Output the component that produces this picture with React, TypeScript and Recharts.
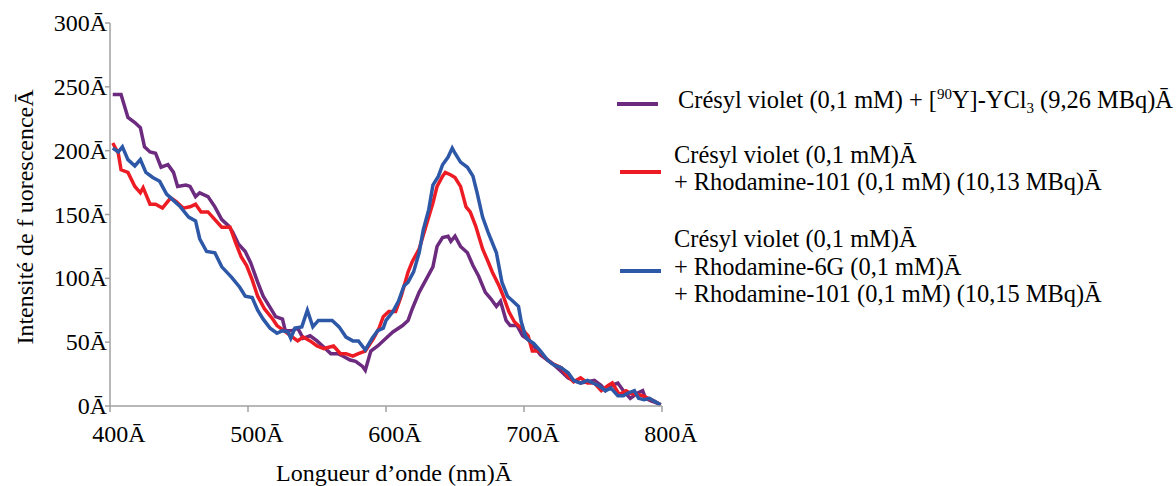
import { LineChart, Line, XAxis, YAxis, Legend } from 'recharts';

// Crésyl violet + [90Y]-YCl3
const cvNm = [402, 408, 413, 418, 422, 425, 429, 433, 437, 442, 446, 449, 455, 458, 462, 465, 471, 476, 481, 486, 489, 493, 498, 502, 507, 511, 515, 520, 525, 527, 532, 536, 540, 545, 550, 556, 560, 565, 569, 574, 578, 583, 585, 589, 594, 600, 605, 612, 616, 619, 624, 629, 634, 637, 641, 645, 647, 650, 654, 659, 663, 667, 672, 676, 680, 683, 687, 690, 695, 699, 703, 707, 712, 717, 722, 727, 732, 736, 741, 746, 751, 756, 759, 763, 768, 772, 777, 782, 786, 788, 792, 797, 799];
const cvVal = [244, 244, 226, 222, 218, 203, 199, 198, 187, 189, 183, 172, 173, 172, 164, 167, 164, 156, 146, 141, 136, 127, 121, 112, 97, 86, 79, 70, 68, 59, 59, 61, 53, 55, 51, 45, 41, 41, 39, 36, 35, 31, 28, 43, 47, 53, 58, 63, 67, 76, 89, 99, 109, 125, 132, 133, 129, 133, 125, 120, 110, 102, 89, 84, 78, 82, 67, 63, 63, 55, 52, 47, 40, 36, 32, 27, 22, 20, 18, 19, 20, 16, 12, 16, 18, 12, 6, 10, 12, 6, 4, 2, 1];

// Crésyl violet + Rhodamine-101
const r101Nm = [402, 406, 408, 413, 418, 422, 424, 429, 433, 438, 444, 448, 453, 458, 462, 466, 471, 476, 481, 487, 491, 495, 499, 503, 507, 512, 518, 521, 526, 531, 536, 540, 545, 550, 555, 562, 567, 571, 576, 580, 585, 591, 595, 598, 602, 607, 611, 616, 619, 624, 629, 634, 637, 641, 643, 647, 650, 654, 658, 661, 665, 670, 674, 677, 682, 685, 689, 693, 698, 703, 706, 711, 716, 721, 727, 732, 736, 741, 746, 751, 756, 761, 764, 769, 774, 777, 782, 786, 790, 794, 799];
const r101Val = [206, 198, 185, 183, 172, 167, 171, 158, 158, 155, 163, 160, 155, 156, 158, 152, 152, 146, 140, 140, 128, 117, 110, 99, 86, 76, 68, 63, 59, 55, 51, 54, 51, 47, 45, 47, 41, 41, 39, 41, 43, 53, 61, 70, 74, 74, 86, 105, 113, 123, 141, 159, 172, 180, 183, 181, 179, 172, 156, 152, 141, 123, 113, 105, 94, 86, 74, 66, 61, 55, 43, 43, 37, 33, 30, 23, 19, 22, 18, 18, 12, 16, 18, 9, 12, 10, 9, 8, 6, 4, 1];

// Crésyl violet + Rhodamine-6G + Rhodamine-101
const r6gNm = [402, 406, 409, 413, 418, 422, 426, 431, 436, 441, 444, 451, 457, 462, 465, 470, 476, 481, 488, 494, 498, 503, 507, 511, 516, 521, 525, 529, 531, 534, 539, 543, 547, 551, 556, 561, 566, 571, 576, 580, 585, 590, 594, 598, 600, 605, 609, 613, 616, 620, 624, 627, 631, 634, 638, 641, 645, 648, 650, 654, 659, 663, 666, 670, 674, 680, 684, 688, 692, 696, 698, 701, 703, 707, 712, 717, 722, 727, 732, 736, 741, 746, 750, 754, 759, 763, 768, 772, 775, 780, 783, 787, 791, 794, 799];
const r6gVal = [202, 199, 203, 193, 188, 193, 183, 179, 176, 166, 163, 156, 148, 145, 131, 121, 120, 109, 101, 93, 86, 85, 75, 68, 61, 57, 59, 58, 53, 61, 62, 75, 62, 67, 67, 67, 62, 54, 51, 51, 44, 53, 59, 61, 67, 74, 82, 94, 97, 105, 120, 138, 154, 173, 180, 189, 195, 202, 198, 191, 187, 180, 167, 148, 136, 120, 97, 86, 82, 78, 66, 55, 52, 49, 43, 36, 32, 30, 26, 20, 18, 20, 18, 16, 12, 14, 8, 8, 10, 12, 6, 5, 6, 4, 1];

const xTicks = [400, 500, 600, 700, 800];
const yTicks = [0, 50, 100, 150, 200, 250, 300];

const PURPLE = '#6d2b7f';
const RED = '#ed1c24';
const BLUE = '#2d58a7';
const AXIS = '#a0a0a0';
const FONT = '"Liberation Serif", "Times New Roman", serif';
const txt = { fontFamily: FONT, fontSize: 24, fill: '#000' };
const legTxt = { ...txt, fontSize: 24.4 };

const toRows = (nm: number[], val: number[]) => nm.map((x, i) => ({ nm: x, v: val[i] }));

const YTick = ({ x, y, payload }: any) => (
  <text x={x + 2} y={y + 8} textAnchor="end" style={txt}>
    {payload.value}Ā
  </text>
);

const XTick = ({ x, y, payload }: any) => (
  <text x={x + 9} y={y + 30} textAnchor="middle" style={txt}>
    {payload.value}Ā
  </text>
);

const LegendBox = () => (
  <svg width={1176} height={486} style={{ position: 'absolute', left: 0, top: 0 }}>
    <line x1={617} x2={658} y1={104} y2={104} stroke={PURPLE} strokeWidth={4} />
    <text x={678} y={108} style={legTxt}>
      Crésyl violet (0,1 mM) + [<tspan style={{ fontSize: 15 }} dy={-9}>90</tspan>
      <tspan dy={9}>Y]-YCl</tspan>
      <tspan style={{ fontSize: 15 }} dy={5}>3</tspan>
      <tspan dy={-5}> (9,26 MBq)Ā</tspan>
    </text>

    <line x1={620} x2={661} y1={172} y2={172} stroke={RED} strokeWidth={4} />
    <text x={674} y={163} style={legTxt}>Crésyl violet (0,1 mM)Ā</text>
    <text x={674} y={190} style={legTxt}>+ Rhodamine-101 (0,1 mM) (10,13 MBq)Ā</text>

    <line x1={620} x2={661} y1={271} y2={271} stroke={BLUE} strokeWidth={4} />
    <text x={674} y={247} style={legTxt}>Crésyl violet (0,1 mM)Ā</text>
    <text x={674} y={275} style={legTxt}>+ Rhodamine-6G (0,1 mM)Ā</text>
    <text x={674} y={302} style={legTxt}>+ Rhodamine-101 (0,1 mM) (10,15 MBq)Ā</text>

    <text x={394} y={481} textAnchor="middle" style={txt}>Longueur d’onde (nm)Ā</text>
    <text x={33} y={217} textAnchor="middle" transform="rotate(-90 33 217)" style={txt}>
      Intensité de f uorescenceĀ
    </text>
  </svg>
);

export default function App() {
  return (
    <div style={{ position: 'absolute', left: 0, top: 0, width: 1176, height: 486, background: '#fff' }}>
      <LineChart width={1176} height={486} margin={{ top: 23, right: 514, bottom: 0, left: 0 }}>
        <XAxis
          type="number"
          dataKey="nm"
          domain={[400, 800]}
          ticks={xTicks}
          allowDataOverflow
          height={80}
          stroke={AXIS}
          strokeWidth={1.5}
          tickSize={6}
          tickMargin={0}
          tick={<XTick />}
        />
        <YAxis
          type="number"
          domain={[0, 300]}
          ticks={yTicks}
          width={110}
          stroke={AXIS}
          strokeWidth={1.5}
          tickSize={5}
          tickMargin={0}
          tick={<YTick />}
        />
        <Legend layout="horizontal" verticalAlign="middle" align="center" content={() => <LegendBox />}
          wrapperStyle={{ left: 0, top: 0, width: 1176, height: 486, pointerEvents: 'none' }} />
        <Line data={toRows(cvNm, cvVal)} dataKey="v" type="linear" stroke={PURPLE} strokeWidth={3.5} dot={false} isAnimationActive={false} />
        <Line data={toRows(r101Nm, r101Val)} dataKey="v" type="linear" stroke={RED} strokeWidth={3.5} dot={false} isAnimationActive={false} />
        <Line data={toRows(r6gNm, r6gVal)} dataKey="v" type="linear" stroke={BLUE} strokeWidth={3.5} dot={false} isAnimationActive={false} />
      </LineChart>
    </div>
  );
}
